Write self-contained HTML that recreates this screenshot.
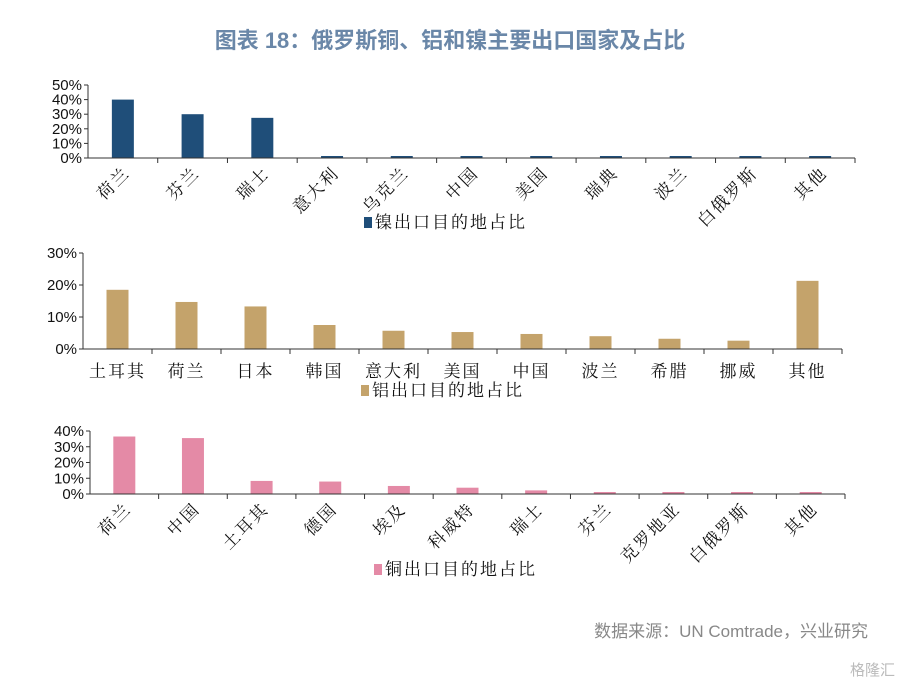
<!DOCTYPE html>
<html><head><meta charset="utf-8"><style>
body{margin:0;background:#fff;width:900px;height:685px;overflow:hidden}
svg{display:block}
.t{font-family:"Liberation Sans",Arial,sans-serif;font-size:15px;fill:#111}
.c{font-family:"Liberation Serif","Noto Serif CJK SC","Noto Sans CJK SC",serif;font-size:17px;fill:#111;letter-spacing:2px}
</style></head><body>
<svg id="s" width="900" height="685" xmlns="http://www.w3.org/2000/svg">
<text x="450" y="48" text-anchor="middle" font-family="'Liberation Sans','Noto Sans CJK SC',sans-serif" font-size="22" font-weight="bold" fill="#6a87a8">图表 18：俄罗斯铜、铝和镍主要出口国家及占比</text>
<text x="868" y="637" text-anchor="end" font-family="'Liberation Sans','Noto Sans CJK SC',sans-serif" font-size="17" fill="#888">数据来源：UN Comtrade，兴业研究</text>
<text x="895" y="675" text-anchor="end" font-family="'Liberation Sans','Noto Sans CJK SC',sans-serif" font-size="15" fill="#bbb">格隆汇</text>
</svg>
<script>
const nickelCats=["荷兰","芬兰","瑞士","意大利","乌克兰","中国","美国","瑞典","波兰","白俄罗斯","其他"];
const nickelVals=[40,30,27.5,0.8,0.5,0.5,0.5,0.3,0.3,0.3,0.7];
const nickelTicks=[0,10,20,30,40,50];
const aluCats=["土耳其","荷兰","日本","韩国","意大利","美国","中国","波兰","希腊","挪威","其他"];
const aluVals=[18.5,14.7,13.3,7.5,5.7,5.3,4.7,4.0,3.2,2.6,21.3];
const aluTicks=[0,10,20,30];
const cuCats=["荷兰","中国","土耳其","德国","埃及","科威特","瑞士","芬兰","克罗地亚","白俄罗斯","其他"];
const cuVals=[36.5,35.5,8.3,7.9,5.1,4.0,2.3,0.6,0.4,0.2,0.2];
const cuTicks=[0,10,20,30,40];
const NS="http://www.w3.org/2000/svg",svg=document.getElementById('s');
function mk(tag,a,parent){const e=document.createElementNS(NS,tag);for(const k in a)e.setAttribute(k,a[k]);(parent||svg).appendChild(e);return e;}
function chart(name,cats,vals,ticks,cfg){
  const g=mk('g',{});
  
  
  const max=ticks[ticks.length-1];
  const y=v=>cfg.y0-(v/max)*(cfg.y0-cfg.yTop);
  const step=(cfg.x1-cfg.x0)/cats.length;
  const x=i=>cfg.x0+step*(i+0.5);
  ticks.forEach(t=>{
    const tl=mk('text',{x:cfg.x0-6,y:y(t)+5,'text-anchor':'end',class:'t'},g);tl.textContent=t+'%';
    
    
    mk('line',{x1:cfg.x0-4,x2:cfg.x0,y1:y(t),y2:y(t),stroke:'#333'},g);
  });
  mk('line',{x1:cfg.x0,x2:cfg.x0,y1:cfg.yTop,y2:cfg.y0,stroke:'#333'},g);
  cats.forEach((c,i)=>{
    const h=Math.max(cfg.y0-y(vals[i]),2);
    const b=mk('rect',{x:x(i)-11,y:cfg.y0-h,width:22,height:h,fill:cfg.color},g);
    
    
    mk('line',{x1:cfg.x0+step*(i+1),x2:cfg.x0+step*(i+1),y1:cfg.y0,y2:cfg.y0+5,stroke:'#333'},g);
    let tx;
    if(cfg.rot){tx=mk('text',{x:x(i)+8,y:cfg.y0+16,'text-anchor':'end',class:'c',transform:`rotate(-45 ${x(i)+8} ${cfg.y0+16})`},g);}
    else{tx=mk('text',{x:x(i),y:cfg.y0+28,'text-anchor':'middle',class:'c'},g);}
    tx.textContent=c;
    
    
  });
  mk('line',{x1:cfg.x0,x2:cfg.x1,y1:cfg.y0,y2:cfg.y0,stroke:'#333'},g);
  const lg=mk('g',{},g);
  
  
  mk('rect',{x:cfg.lx,y:cfg.ly-11,width:8,height:11,fill:cfg.color},lg);
  const lt=mk('text',{x:cfg.lx+11,y:cfg.ly,class:'c'},lg);lt.textContent=cfg.legend;
}
chart('nickel',nickelCats,nickelVals,nickelTicks,{x0:88,x1:855,y0:158,yTop:85,color:'#1f4e79',rot:true,lx:364,ly:228,legend:'镍出口目的地占比'});
chart('aluminum',aluCats,aluVals,aluTicks,{x0:83,x1:842,y0:349,yTop:253,color:'#c4a36b',rot:false,lx:361,ly:396,legend:'铝出口目的地占比'});
chart('copper',cuCats,cuVals,cuTicks,{x0:90,x1:845,y0:494,yTop:431,color:'#e48aa6',rot:true,lx:374,ly:575,legend:'铜出口目的地占比'});
</script>
</body></html>
